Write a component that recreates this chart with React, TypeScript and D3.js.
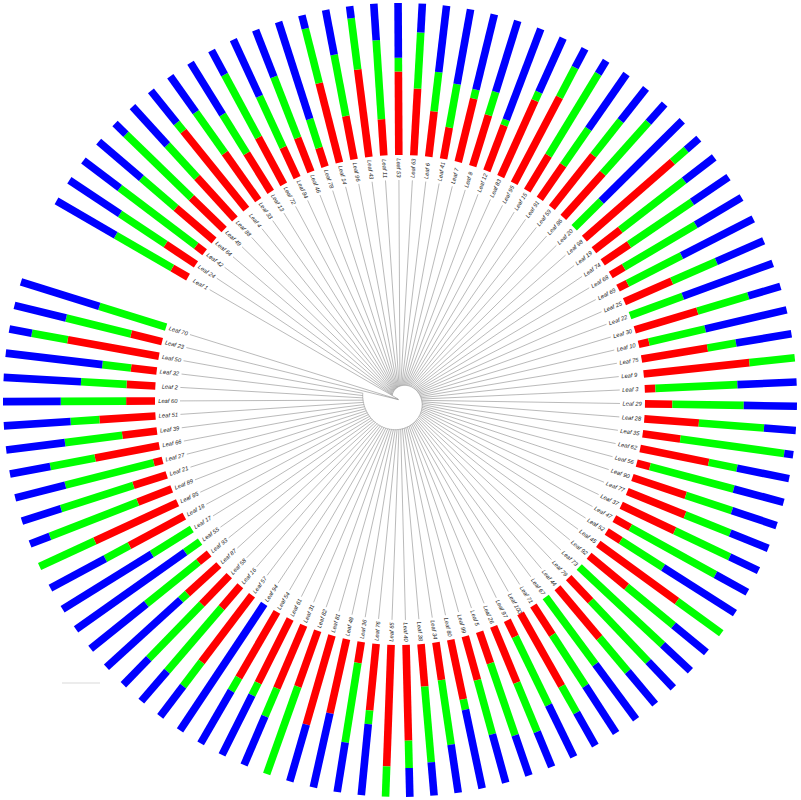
import React from "react";
import * as d3 from "d3";

// Leaf order, clockwise from the gap (upper-left)
const leafIds = [1,24,42,64,49,88,4,33,13,72,84,46,78,14,96,43,11,53,63,6,41,7,8,12,83,95,15,91,59,86,20,98,19,74,68,69,25,22,30,10,75,9,3,29,28,35,62,56,90,77,37,47,52,45,92,73,79,44,67,71,100,97,26,5,99,80,34,38,40,65,76,36,48,81,82,31,61,54,94,57,16,58,87,93,55,17,18,85,89,21,27,66,39,51,60,2,32,50,23,70];

const redShare = [.12,.24,.07,.33,.30,.37,.66,.38,.30,.35,.22,.24,.13,.54,.29,.58,.24,.55,.44,.30,.21,.43,.35,.32,.55,.64,.27,.27,.44,.39,0,.77,.22,.21,.10,.07,.34,0,.43,.07,.44,.70,.07,.18,.36,.25,.46,.09,.37,.41,.39,.12,.11,.64,.32,0,.21,.43,0,.23,.55,.12,.40,.22,.30,.40,.25,.28,.63,.80,.44,.14,.50,.61,.39,.45,.47,.50,0,.55,.19,.26,.28,.09,0,0,.41,.60,.24,.23,.06,.43,.23,.37,.19,.19,.17,.61,.21,0];
const greenShare = [.43,.36,.63,.30,.60,.29,.07,.33,.30,.47,.37,.43,.20,.37,.41,.34,.52,.09,.37,.26,.29,.06,.16,.04,.06,.22,.63,.29,.29,.45,.25,.12,.53,.50,.55,.40,.32,.37,.35,.38,.19,.30,.54,.47,.43,.69,.19,.57,.32,.32,.40,.64,.33,.36,.40,.75,.55,.29,.55,.40,.20,.50,.35,.50,.37,.07,.43,.50,.18,.20,.09,.53,0,0,.61,.20,.09,.10,0,.20,.55,.50,.06,.44,.12,.31,.18,.40,.62,.50,.60,.30,.38,.19,.43,.30,.19,.24,.44,.46];
const blueShare = [.45,.40,.30,.37,.10,.34,.27,.29,.40,.18,.41,.33,.67,.09,.30,.08,.24,.36,.19,.44,.50,.51,.49,.64,.39,.14,.10,.44,.27,.16,.75,.11,.25,.29,.35,.53,.34,.63,.22,.55,.37,0,.39,.35,.21,.06,.35,.34,.31,.27,.21,.24,.56,0,.28,.25,.24,.28,.45,.37,.25,.38,.25,.28,.33,.53,.32,.22,.19,0,.47,.33,.50,.39,0,.35,.44,.40,1,.25,.26,.24,.66,.47,.88,.69,.41,0,.14,.27,.34,.27,.39,.44,.38,.51,.64,.15,.35,.54];

const seriesColors = ["#ff0000", "#00ff00", "#0000ff"];

const W = 801;
const H = 800;
const CX = 400;
const CY = 400;

export default function App() {
  const n = leafIds.length;
  const angle = d3.scaleLinear().domain([0, n - 1]).range([210.1, 557.3]);
  const barR = d3.scaleLinear().domain([0, 1]).range([245, 397]);
  const nodeR = d3.scaleLinear().domain([0, n - 3]).range([9, 38]);
  const tipR = 220;
  const labelR = 222.5;
  const rad = (deg: number) => (deg * Math.PI) / 180;
  const pt = (deg: number, r: number): [number, number] => [
    CX + r * Math.cos(rad(deg)),
    CY + r * Math.sin(rad(deg)),
  ];

  const spiralPts: [number, number][] = [];
  spiralPts.push(pt(angle(0) - 6, 2));
  for (let i = 0; i < n - 3; i++) {
    const a0 = angle(i), a1 = angle(i + 1);
    const r0 = nodeR(i);
    const steps = 4;
    for (let s = 0; s <= steps; s++) spiralPts.push(pt(a0 + ((a1 - a0) * s) / steps, r0));
    spiralPts.push(pt(a1, nodeR(i + 1)));
  }
  const line = d3.line();
  const spiralD = line(spiralPts) || "";

  const branches = leafIds.map((_, i) => {
    const a = angle(i);
    const r0 = i >= n - 2 ? 1.5 : nodeR(i);
    const [x1, y1] = pt(a, r0);
    const [x2, y2] = pt(a, tipR);
    return <line key={"b" + i} x1={x1} y1={y1} x2={x2} y2={y2} stroke="#8c8c8c" strokeWidth={0.6} />;
  });

  const bars = leafIds.map((_, i) => {
    const a = angle(i);
    const vals = [redShare[i], greenShare[i], blueShare[i]];
    const tot = vals[0] + vals[1] + vals[2];
    let cum = 0;
    return (
      <g key={"bar" + i}>
        {vals.map((v, k) => {
          const s = cum / tot;
          cum += v;
          const e = cum / tot;
          if (v <= 0) return null;
          const [x1, y1] = pt(a, barR(s));
          const [x2, y2] = pt(a, barR(e));
          return (
            <line key={k} x1={x1} y1={y1} x2={x2} y2={y2} stroke={seriesColors[k]} strokeWidth={7.6} strokeLinecap="butt" />
          );
        })}
      </g>
    );
  });

  const labels = leafIds.map((id, i) => {
    const a = angle(i);
    const norm = ((a % 360) + 360) % 360;
    const left = norm > 90 && norm < 270;
    const [x, y] = pt(a, labelR);
    const rot = left ? norm + 180 : norm;
    return (
      <text
        key={"l" + i}
        transform={`translate(${x},${y}) rotate(${rot})`}
        textAnchor={left ? "end" : "start"}
        dy="0.35em"
        fontFamily="'Liberation Sans', Arial, sans-serif"
        fontStyle="italic"
        fontSize={5.8}
        fill="#222"
      >
        {"Leaf " + id}
      </text>
    );
  });

  return (
    <svg width={W} height={H} style={{ position: "absolute", left: 0, top: 0, background: "#fff" }}>
      <rect x={0} y={0} width={W} height={H} fill="#fff" />
      <path d={spiralD} fill="none" stroke="#8c8c8c" strokeWidth={0.6} />
      {branches}
      {labels}
      {bars}
      <line x1={62} y1={683} x2={100} y2={683} stroke="#d9d9d9" strokeWidth={1} />
    </svg>
  );
}
